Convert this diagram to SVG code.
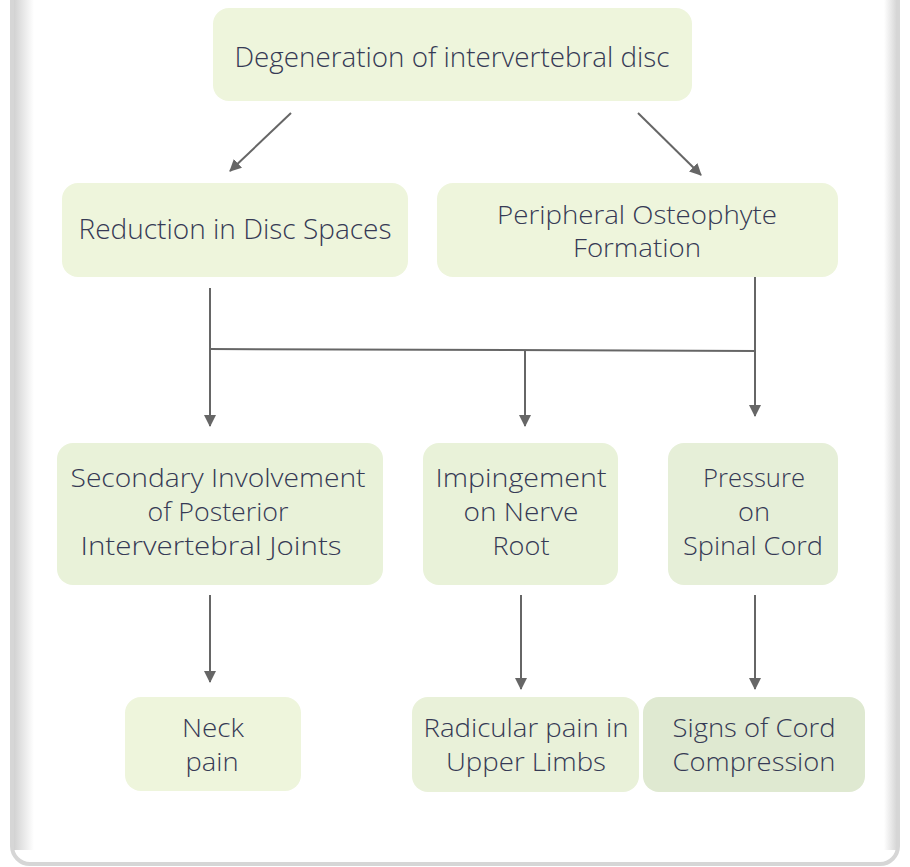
<svg xmlns="http://www.w3.org/2000/svg" width="910" height="867" viewBox="0 0 910 867">
<defs>
<style>
.node rect{fill:#eef5dc;}
.node text{font-family:"Open Sans","Noto Sans",sans-serif;font-size:25px;font-weight:300;fill:#363a55;text-anchor:middle;}
.node text.big{font-size:28px;}
.conn line,.conn path{stroke:#666;stroke-width:2;fill:none;}
</style>
<marker id="ah" viewBox="0 0 12 12" refX="11" refY="6" markerWidth="12" markerHeight="12" markerUnits="userSpaceOnUse" orient="auto">
<path d="M0,0 L12,6 L0,12 z" fill="#666"/>
</marker>
<linearGradient id="lg" x1="0" x2="1" y1="0" y2="0">
<stop offset="0" stop-color="#d2d2d2"/>
<stop offset="1" stop-color="#ffffff"/>
</linearGradient>
<linearGradient id="rg" x1="0" x2="1" y1="0" y2="0">
<stop offset="0" stop-color="#ffffff"/>
<stop offset="1" stop-color="#d8d8d8"/>
</linearGradient>
</defs>
<rect x="0" y="0" width="910" height="867" fill="#fff"/>
<rect x="12" y="-20" width="886" height="884" rx="18" fill="#ffffff" stroke="#d6d6d6" stroke-width="4"/>
<rect x="14" y="0" width="20" height="850" fill="url(#lg)"/>
<rect x="884" y="0" width="12" height="850" fill="url(#rg)"/>

<g class="conn">
<line x1="291" y1="113" x2="230" y2="171" marker-end="url(#ah)"/>
<line x1="638" y1="113" x2="701" y2="175" marker-end="url(#ah)"/>
<line x1="210" y1="288" x2="210" y2="426" marker-end="url(#ah)"/>
<line x1="755" y1="272" x2="755" y2="416" marker-end="url(#ah)"/>
<line x1="209" y1="349" x2="756" y2="351"/>
<line x1="525" y1="350" x2="525" y2="426" marker-end="url(#ah)"/>
<line x1="210" y1="595" x2="210" y2="682" marker-end="url(#ah)"/>
<line x1="521" y1="595" x2="521" y2="689" marker-end="url(#ah)"/>
<line x1="755" y1="595" x2="755" y2="689" marker-end="url(#ah)"/>
</g>

<g id="n_degeneration" class="node">
<rect x="213" y="8" width="479" height="93" rx="16"/>
<text class="big" x="452" y="67" textLength="435" lengthAdjust="spacingAndGlyphs">Degeneration of intervertebral disc</text>
</g>
<g id="n_reduction" class="node">
<rect x="62" y="183" width="346" height="94" rx="16"/>
<text class="big" x="235" y="239" textLength="313" lengthAdjust="spacingAndGlyphs">Reduction in Disc Spaces</text>
</g>
<g id="n_osteophyte" class="node">
<rect x="437" y="183" width="401" height="94" rx="16"/>
<text x="637" y="224" textLength="280" lengthAdjust="spacingAndGlyphs">Peripheral Osteophyte</text>
<text x="637" y="257" textLength="128" lengthAdjust="spacingAndGlyphs">Formation</text>
</g>
<g id="n_secondary" class="node">
<rect x="57" y="443" width="326" height="142" rx="16" style="fill:#e9f2d9"/>
<text x="218" y="487" textLength="295" lengthAdjust="spacingAndGlyphs">Secondary Involvement</text>
<text x="218" y="521" textLength="141" lengthAdjust="spacingAndGlyphs">of Posterior</text>
<text x="211" y="555" textLength="261" lengthAdjust="spacingAndGlyphs">Intervertebral Joints</text>
</g>
<g id="n_impingement" class="node">
<rect x="423" y="443" width="195" height="142" rx="16" style="fill:#e9f2d9"/>
<text x="521" y="487" textLength="171" lengthAdjust="spacingAndGlyphs">Impingement</text>
<text x="521" y="521" textLength="115" lengthAdjust="spacingAndGlyphs">on Nerve</text>
<text x="521" y="555" textLength="57" lengthAdjust="spacingAndGlyphs">Root</text>
</g>
<g id="n_pressure" class="node">
<rect x="668" y="443" width="170" height="142" rx="16" style="fill:#e6efd8"/>
<text x="754" y="487" textLength="102" lengthAdjust="spacingAndGlyphs">Pressure</text>
<text x="754" y="521" textLength="32" lengthAdjust="spacingAndGlyphs">on</text>
<text x="753" y="555" textLength="140" lengthAdjust="spacingAndGlyphs">Spinal Cord</text>
</g>
<g id="n_neck" class="node">
<rect x="125" y="697" width="176" height="94" rx="16"/>
<text x="213" y="737" textLength="62" lengthAdjust="spacingAndGlyphs">Neck</text>
<text x="212" y="771" textLength="53" lengthAdjust="spacingAndGlyphs">pain</text>
</g>
<g id="n_radicular" class="node">
<rect x="412" y="697" width="227" height="95" rx="16" style="fill:#e9f1d9"/>
<text x="526" y="737" textLength="205" lengthAdjust="spacingAndGlyphs">Radicular pain in</text>
<text x="526" y="771" textLength="160" lengthAdjust="spacingAndGlyphs">Upper Limbs</text>
</g>
<g id="n_signs" class="node">
<rect x="643" y="697" width="222" height="95" rx="16" style="fill:#dfe9d1"/>
<text x="754" y="737" textLength="163" lengthAdjust="spacingAndGlyphs">Signs of Cord</text>
<text x="754" y="771" textLength="163" lengthAdjust="spacingAndGlyphs">Compression</text>
</g>
</svg>
